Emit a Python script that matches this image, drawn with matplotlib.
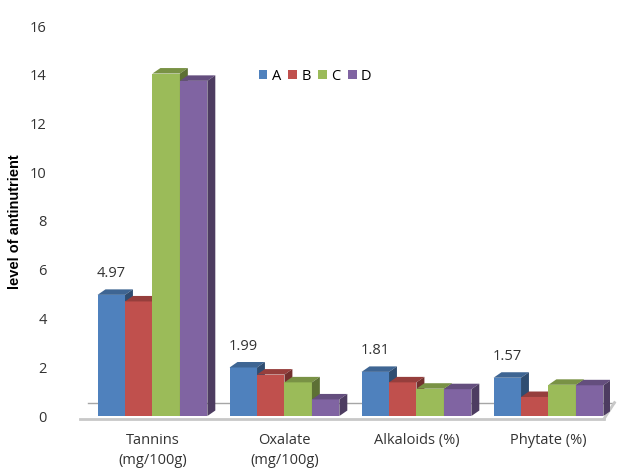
import numpy as np
import matplotlib
matplotlib.use('Agg')
import matplotlib.pyplot as plt
from matplotlib.patches import Polygon
from matplotlib.colors import to_rgb

plt.rcParams['font.family'] = ['Open Sans', 'DejaVu Sans']

categories = ['Tannins\n(mg/100g)', 'Oxalate\n(mg/100g)', 'Alkaloids (%)', 'Phytate (%)']
series = ['A', 'B', 'C', 'D']
values_a = [4.97, 1.99, 1.81, 1.57]
values_b = [4.70, 1.70, 1.38, 0.78]
values_c = [14.05, 1.38, 1.12, 1.28]
values_d = [13.75, 0.68, 1.10, 1.26]
labels_a = ['4.97', '1.99', '1.81', '1.57']
colors = ['#4F81BD', '#C0504D', '#9BBB59', '#8064A2']


def shade(c, f):
    r, g, b = to_rgb(c)
    return (r * f, g * f, b * f)


def main():
    fig = plt.figure(figsize=(6.21, 4.76), dpi=100)
    ax = fig.add_axes([80 / 621, 60 / 476, 530 / 621, 390 / 476])

    x = np.arange(len(categories))
    w = 0.208
    dx = 0.06   # depth offset of the 3d look
    dy = 0.225
    all_vals = [values_a, values_b, values_c, values_d]

    # floor
    ax.plot([-0.49, 3.50], [0.55, 0.55], color='#A6A6A6', lw=1, zorder=0, clip_on=False)
    ax.plot([-0.55, 3.42], [-0.12, -0.12], color='#C8C8C8', lw=2, zorder=0, clip_on=False)
    ax.plot([3.42, 3.50], [-0.12, 0.55], color='#C8C8C8', lw=2, zorder=0, clip_on=False)

    z = 2
    for i in range(len(categories)):
        for j in range(len(series)):
            h = all_vals[j][i]
            x0 = x[i] - 2 * w + j * w
            x1 = x0 + w
            c = colors[j]
            ax.bar(x0, h, width=w, align='edge', color=c, edgecolor='none',
                   zorder=z, label=series[j] if i == 0 else None)
            top = Polygon([(x0, h), (x0 + dx, h + dy), (x1 + dx, h + dy), (x1, h)],
                          closed=True, facecolor=shade(c, 0.78), edgecolor='none', zorder=z)
            side = Polygon([(x1, 0), (x1 + dx, dy), (x1 + dx, h + dy), (x1, h)],
                           closed=True, facecolor=shade(c, 0.6), edgecolor='none', zorder=z)
            ax.add_patch(top)
            ax.add_patch(side)
            z += 1
        ax.annotate(labels_a[i], (x[i] - 1.5 * w, values_a[i]), xytext=(0, 10),
                    textcoords='offset points', ha='center', va='bottom',
                    fontsize=10.5, color='#333333')

    ax.set_xlim(-0.549, 3.466)
    ax.set_ylim(0, 16)
    ax.set_yticks(np.arange(0, 17, 2))
    ax.set_xticks(x)
    ax.set_xticklabels(categories, fontsize=10.5, color='#333333', linespacing=1.45)
    ax.tick_params(axis='y', length=0, pad=24, labelsize=10.5, labelcolor='#333333')
    ax.tick_params(axis='x', length=0, pad=12)
    for s in ax.spines.values():
        s.set_visible(False)

    fig.text(15 / 621, 1 - 222 / 476, 'level of antinutrient', rotation=90,
             ha='center', va='center', fontsize=10.5, fontweight='bold',
             family=['Liberation Sans Narrow', 'Liberation Sans', 'DejaVu Sans'])

    fig.legend(loc='center', bbox_to_anchor=(315 / 621, 1 - 76 / 476), ncol=4,
               frameon=False, handlelength=0.6, handleheight=0.6, handletextpad=0.3,
               columnspacing=0.5, fontsize=10.5)

    fig.savefig('out.png', dpi=100)


main()
